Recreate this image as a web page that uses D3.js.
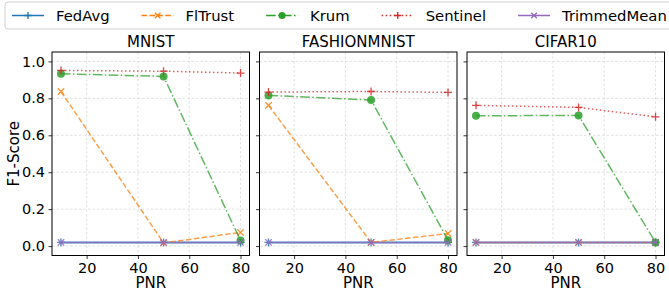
<!DOCTYPE html>
<html>
<head>
<meta charset="utf-8">
<script src="https://cdn.jsdelivr.net/npm/d3@7"></script>
<style>
  body { margin: 0; background: #fff; }
  svg { font-family: "DejaVu Sans", sans-serif; }
</style>
</head>
<body>
<div id="chart"></div>
<script>
// data
var pnr = [10, 50, 80];
var datasets = ["MNIST", "FASHIONMNIST", "CIFAR10"];
var methods = ["FedAvg", "FlTrust", "Krum", "Sentinel", "TrimmedMean"];
var fedavg   = [[0.02, 0.02, 0.02], [0.02, 0.02, 0.02], [0.02, 0.02, 0.02]];
var fltrust  = [[0.837, 0.017, 0.074], [0.762, 0.02, 0.068], [0.02, 0.02, 0.02]];
var krum     = [[0.933, 0.919, 0.03], [0.816, 0.791, 0.032], [0.706, 0.707, 0.02]];
var sentinel = [[0.951, 0.947, 0.937], [0.834, 0.837, 0.832], [0.762, 0.751, 0.70]];
var trimmed  = [[0.02, 0.02, 0.02], [0.02, 0.02, 0.02], [0.02, 0.02, 0.02]];
var xTicks = [20, 40, 60, 80];
var yTicks = [0, 0.2, 0.4, 0.6, 0.8, 1.0];

var series = [
  {name: "FedAvg", values: fedavg, color: "#1f77b4", dash: null, marker: "plus", width: 2},
  {name: "FlTrust", values: fltrust, color: "#ff7f0e", dash: "5.5,2.4", marker: "x", width: 1.5},
  {name: "Krum", values: krum, color: "#2ca02c", dash: "9.6,2.4,1.5,2.4", marker: "circle", width: 1.5},
  {name: "Sentinel", values: sentinel, color: "#d62728", dash: "1.5,2.5", marker: "plus", width: 1.5},
  {name: "TrimmedMean", values: trimmed, color: "#9467bd", dash: null, marker: "x", width: 1.5}
];

var W = 669, H = 293;
var margin = {top: 52, left: 52, bottom: 37.5},
    panelW = 197.5, gap = 10,
    height = H - margin.top - margin.bottom;

var svg = d3.select("#chart").append("svg")
  .attr("width", W).attr("height", H);

var x = d3.scaleLinear().domain([6.5, 83.5]).range([0, panelW]);
var y = d3.scaleLinear().domain([-0.051, 1.051]).range([height, 0]);

function drawMarker(g, type, color, size) {
  if (type === "circle") {
    g.append("circle").attr("r", 4).attr("fill", color);
  } else if (type === "plus") {
    g.append("path").attr("d", "M" + (-size) + ",0H" + size + "M0," + (-size) + "V" + size)
      .attr("stroke", color).attr("stroke-width", 1.3);
  } else {
    var s = size * 0.8;
    g.append("path").attr("d", "M" + (-s) + "," + (-s) + "L" + s + "," + s + "M" + (-s) + "," + s + "L" + s + "," + (-s))
      .attr("stroke", color).attr("stroke-width", 1.3);
  }
}

datasets.forEach(function(name, i) {
  var g = svg.append("g")
    .attr("transform", "translate(" + (margin.left + i * (panelW + gap)) + "," + margin.top + ")");

  // grid
  g.append("g").selectAll("line").data(xTicks).enter().append("line")
    .attr("x1", d => x(d)).attr("x2", d => x(d)).attr("y1", 0).attr("y2", height)
    .attr("stroke", "#d9d9d9").attr("stroke-width", 0.8).attr("stroke-dasharray", "2.5,2");
  g.append("g").selectAll("line").data(yTicks).enter().append("line")
    .attr("y1", d => y(d)).attr("y2", d => y(d)).attr("x1", 0).attr("x2", panelW)
    .attr("stroke", "#d9d9d9").attr("stroke-width", 0.8).attr("stroke-dasharray", "2.5,2");

  // axes
  var xa = g.append("g").attr("transform", "translate(0," + height + ")")
    .call(d3.axisBottom(x).tickValues(xTicks).tickSize(3.5).tickPadding(3.5));
  var ya = g.append("g")
    .call(d3.axisLeft(y).tickValues(yTicks).tickSize(3.5).tickPadding(3.5)
      .tickFormat(i === 0 ? d3.format(".1f") : ""));
  [xa, ya].forEach(function(a) {
    a.select(".domain").remove();
    a.selectAll("text").attr("font-size", 14.5).attr("fill", "#000")
      .attr("font-family", "DejaVu Sans");
    a.selectAll("line").attr("stroke", "#000").attr("stroke-width", 0.8);
  });

  // lines
  series.forEach(function(s) {
    var pts = pnr.map(function(p, k) { return [p, s.values[i][k]]; });
    g.append("path").datum(pts)
      .attr("fill", "none")
      .attr("stroke", s.color)
      .attr("stroke-width", s.width)
      .attr("stroke-opacity", 0.75)
      .attr("stroke-dasharray", s.dash)
      .attr("d", d3.line().x(d => x(d[0])).y(d => y(d[1])));
    pts.forEach(function(d) {
      var m = g.append("g").attr("transform", "translate(" + x(d[0]) + "," + y(d[1]) + ")")
        .attr("opacity", 0.85);
      drawMarker(m, s.marker, s.color, 4);
    });
  });

  // frame
  g.append("rect").attr("width", panelW).attr("height", height)
    .attr("fill", "none").attr("stroke", "#000").attr("stroke-width", 1);

  g.append("text").attr("x", panelW / 2).attr("y", -5)
    .attr("text-anchor", "middle").attr("font-size", 15).text(name);
  g.append("text").attr("x", panelW / 2).attr("y", height + 32.5)
    .attr("text-anchor", "middle").attr("font-size", 15).text("PNR");
});

svg.append("text")
  .attr("transform", "translate(19," + (margin.top + height / 2) + ") rotate(-90)")
  .attr("text-anchor", "middle").attr("font-size", 15).text("F1-Score");

// legend
var leg = svg.append("g");
leg.append("rect").attr("x", 5).attr("y", 2).attr("width", 680).attr("height", 27)
  .attr("rx", 3).attr("fill", "#fff").attr("stroke", "#d0d0d0").attr("stroke-width", 1);
var lx = 12;
series.forEach(function(s) {
  var item = leg.append("g").attr("transform", "translate(" + lx + ",15.5)");
  item.append("line").attr("x1", 0).attr("x2", 32)
    .attr("stroke", s.color).attr("stroke-width", s.width === 2 ? 1.5 : s.width)
    .attr("stroke-dasharray", s.dash);
  var m = item.append("g").attr("transform", "translate(16,0)");
  if (s.marker === "circle") m.append("circle").attr("r", 3.5).attr("fill", s.color);
  else drawMarker(m, s.marker, s.color, 3.5);
  var t = item.append("text").attr("x", 44).attr("y", 5.2).attr("font-size", 14.8).text(s.name);
  lx += 44 + t.node().getComputedTextLength() + 32;
});
</script>
</body>
</html>
